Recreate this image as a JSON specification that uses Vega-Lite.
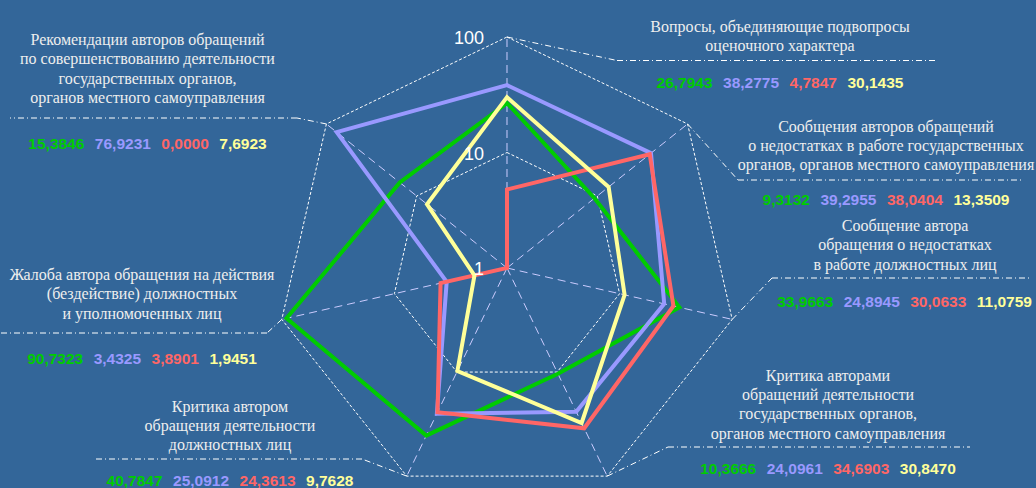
{
  "$schema": "https://vega.github.io/schema/vega-lite/v6.json",
  "width": 1036,
  "height": 488,
  "autosize": {"type": "none"},
  "padding": 0,
  "background": "#336699",
  "config": {"view": {"stroke": null}},
  "datasets": {
    "cats": [
      {"k": 0, "name": "Вопросы, объединяющие подвопросы\nоценочного характера", "s1": 26.7943, "s2": 38.2775, "s3": 4.7847, "s4": 30.1435, "cx": 2.3636, "ty": 2.0459, "vy": 1.6147, "hy": 1.7965, "hx1": 0.9524, "hx2": 3.7229},
      {"k": 1, "name": "Сообщения авторов обращений\nо недостатках в работе государственных\nорганов, органов местного самоуправления", "s1": 9.3132, "s2": 39.2955, "s3": 38.0404, "s4": 13.3509, "cx": 3.2814, "ty": 1.1801, "vy": 0.5931, "hy": 0.7619, "hx1": 2.0, "hx2": 4.4675},
      {"k": 2, "name": "Сообщение автора\nобращения о недостатках\nв работе должностных лиц", "s1": 33.9663, "s2": 24.8945, "s3": 30.0633, "s4": 11.0759, "cx": 3.4459, "ty": 0.3203, "vy": -0.2857, "hy": -0.0866, "hx1": 2.2944, "hx2": 4.5281},
      {"k": 3, "name": "Критика авторами\nобращений деятельности\nгосударственных органов,\nорганов местного самоуправления", "s1": 10.3666, "s2": 24.0961, "s3": 34.6903, "s4": 30.847, "cx": 2.7792, "ty": -0.9758, "vy": -1.7273, "hy": -1.5498, "hx1": 1.3939, "hx2": 4.0087},
      {"k": 4, "name": "Критика автором\nобращения деятельности\nдолжностных лиц", "s1": 40.7847, "s2": 25.0912, "s3": 24.3613, "s4": 9.7628, "cx": -2.3983, "ty": -1.2442, "vy": -1.8398, "hy": -1.6537, "hx1": -1.2554, "hx2": -3.5671},
      {"k": 5, "name": "Жалоба автора обращения на действия\n(бездействие) должностных\nи уполномоченных лиц", "s1": 90.7323, "s2": 3.4325, "s3": 3.8901, "s4": 1.9451, "cx": -3.1602, "ty": -0.1039, "vy": -0.7792, "hy": -0.5628, "hx1": -2.0779, "hx2": -4.3896},
      {"k": 6, "name": "Рекомендации  авторов обращений\nпо совершенствованию деятельности\nгосударственных органов,\nорганов местного самоуправления", "s1": 15.3846, "s2": 76.9231, "s3": 0.0, "s4": 7.6923, "cx": -3.1126, "ty": 1.9307, "vy": 1.0823, "hy": 1.2987, "hx1": -1.8182, "hx2": -4.303}
    ],
    "ticks": [
      {"t": "1", "r": 0},
      {"t": "10", "r": 1},
      {"t": "100", "r": 2}
    ]
  },
  "layer": [
    {
      "data": {"name": "cats"},
      "transform": [
        {"calculate": "1", "as": "ra"},
        {"calculate": "2", "as": "rb"},
        {"fold": ["ra", "rb"], "as": ["ring", "rr"]},
        {"calculate": "datum.rr * sin(2 * PI * datum.k / 7)", "as": "px"},
        {"calculate": "datum.rr * cos(2 * PI * datum.k / 7)", "as": "py"}
      ],
      "mark": {"type": "line", "interpolate": "linear-closed", "stroke": "#ffffff", "strokeWidth": 1, "strokeDash": [3, 2]},
      "encoding": {
        "x": {"field": "px", "type": "quantitative", "scale": {"domain": [-4.38961, 4.58009], "nice": false, "zero": false}, "axis": null},
        "y": {"field": "py", "type": "quantitative", "scale": {"domain": [-1.90476, 2.32035], "nice": false, "zero": false}, "axis": null},
        "detail": {"field": "ring", "type": "nominal"},
        "order": {"field": "k", "type": "quantitative"}
      }
    },
    {
      "data": {"name": "cats"},
      "transform": [
        {"calculate": "0", "as": "ox"},
        {"calculate": "2 * sin(2 * PI * datum.k / 7)", "as": "ex"},
        {"calculate": "2 * cos(2 * PI * datum.k / 7)", "as": "ey"}
      ],
      "mark": {"type": "rule", "stroke": "#ccccff", "strokeWidth": 1, "strokeDash": [8, 5]},
      "encoding": {
        "x": {"field": "ox", "type": "quantitative"},
        "y": {"field": "ox", "type": "quantitative"},
        "x2": {"field": "ex"},
        "y2": {"field": "ey"}
      }
    },
    {
      "data": {"name": "cats"},
      "transform": [
        {"calculate": "2 * sin(2 * PI * datum.k / 7)", "as": "ex"},
        {"calculate": "2 * cos(2 * PI * datum.k / 7)", "as": "ey"}
      ],
      "mark": {"type": "rule", "stroke": "#ffffff", "strokeWidth": 1, "strokeDash": [6, 3, 1, 3]},
      "encoding": {
        "x": {"field": "ex", "type": "quantitative"},
        "y": {"field": "ey", "type": "quantitative"},
        "x2": {"field": "hx1"},
        "y2": {"field": "hy"}
      }
    },
    {
      "data": {"name": "cats"},
      "mark": {"type": "rule", "stroke": "#ffffff", "strokeWidth": 1, "strokeDash": [6, 3, 1, 3]},
      "encoding": {
        "x": {"field": "hx1", "type": "quantitative"},
        "x2": {"field": "hx2"},
        "y": {"field": "hy", "type": "quantitative"}
      }
    },
    {
      "data": {"name": "cats"},
      "transform": [
        {"fold": ["s1", "s2", "s3", "s4"], "as": ["series", "value"]},
        {"calculate": "datum.value > 1 ? log(datum.value) / LN10 : 0", "as": "rad"},
        {"calculate": "datum.rad * sin(2 * PI * datum.k / 7)", "as": "px"},
        {"calculate": "datum.rad * cos(2 * PI * datum.k / 7)", "as": "py"}
      ],
      "mark": {"type": "line", "interpolate": "linear-closed", "strokeWidth": 4, "strokeJoin": "miter"},
      "encoding": {
        "x": {"field": "px", "type": "quantitative"},
        "y": {"field": "py", "type": "quantitative"},
        "color": {"field": "series", "type": "nominal", "scale": {"domain": ["s1", "s2", "s3", "s4"], "range": ["#00cc00", "#9999ff", "#ff6666", "#ffff99"]}, "legend": null},
        "order": {"field": "k", "type": "quantitative"}
      }
    },
    {
      "data": {"name": "ticks"},
      "transform": [{"calculate": "0", "as": "ox"}],
      "mark": {"type": "text", "font": "Liberation Sans", "fontSize": 18, "color": "#ffffff", "align": "right", "baseline": "middle", "dx": -23, "dy": 2},
      "encoding": {
        "x": {"field": "ox", "type": "quantitative"},
        "y": {"field": "r", "type": "quantitative"},
        "text": {"field": "t", "type": "nominal"}
      }
    },
    {
      "data": {"name": "cats"},
      "mark": {"type": "text", "font": "Liberation Serif", "fontSize": 16, "color": "#eeeeee", "align": "center", "baseline": "alphabetic", "lineHeight": 19.3, "lineBreak": "\n"},
      "encoding": {
        "x": {"field": "cx", "type": "quantitative"},
        "y": {"field": "ty", "type": "quantitative"},
        "text": {"field": "name", "type": "nominal"}
      }
    },
    {
      "data": {"name": "cats"},
      "transform": [
        {"calculate": "length(format(datum.s1, '.4f')) * 8.618 - 4.309 + 10.5", "as": "w1"},
        {"calculate": "length(format(datum.s2, '.4f')) * 8.618 - 4.309 + 10.5", "as": "w2"},
        {"calculate": "length(format(datum.s3, '.4f')) * 8.618 - 4.309 + 10.5", "as": "w3"},
        {"calculate": "length(format(datum.s4, '.4f')) * 8.618 - 4.309 + 10.5", "as": "w4"},
        {"fold": ["s1", "s2", "s3", "s4"], "as": ["series", "value"]},
        {"calculate": "replace(format(datum.value, '.4f'), '.', ',')", "as": "txt"},
        {"calculate": "datum.series == 's1' ? 0 : datum.series == 's2' ? datum.w1 : datum.series == 's3' ? datum.w1 + datum.w2 : datum.w1 + datum.w2 + datum.w3", "as": "cum"},
        {"calculate": "datum.cx + (datum.cum - (datum.w1 + datum.w2 + datum.w3 + datum.w4 - 10.5) / 2) / 115.5", "as": "vx"}
      ],
      "mark": {"type": "text", "font": "Liberation Sans", "fontWeight": "bold", "fontSize": 15.5, "align": "left", "baseline": "middle", "dy": 1},
      "encoding": {
        "x": {"field": "vx", "type": "quantitative"},
        "y": {"field": "vy", "type": "quantitative"},
        "text": {"field": "txt", "type": "nominal"},
        "color": {"field": "series", "type": "nominal", "legend": null}
      }
    }
  ]
}
